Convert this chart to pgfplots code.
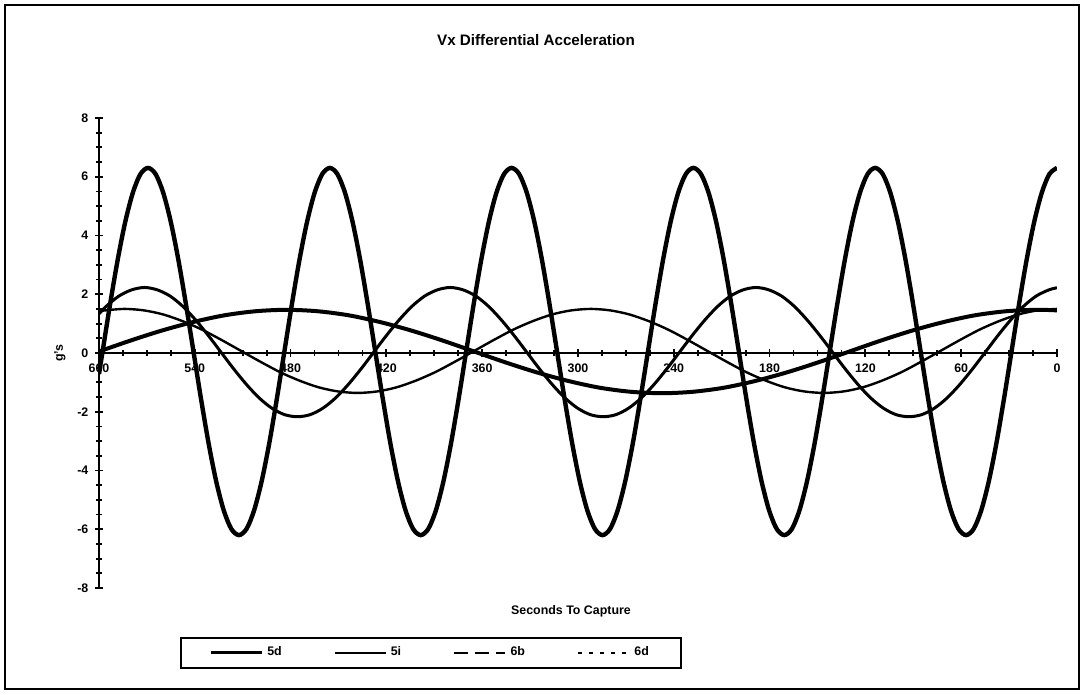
\documentclass[border=0pt]{standalone}
\usepackage{pgfplots}
\pgfplotsset{compat=1.18}
\usepackage{fontspec}
\setmainfont{Liberation Sans}
\begin{document}
\begin{tikzpicture}
% page area and outer frame
\path[use as bounding box] (0,0) rectangle (541.5pt,347.5pt);
\draw[line width=1pt] (2.5pt,3pt) rectangle (539.5pt,345pt);
\node[font=\fontsize{7.6}{9}\selectfont\bfseries] at (268pt,327.5pt) {Vx Differential Acceleration};
\node[font=\fontsize{6.2}{7}\selectfont\bfseries] at (285.5pt,42pt) {Seconds To Capture};
\node[font=\fontsize{6.2}{7}\selectfont\bfseries, rotate=90] at (30pt,171pt) {g's};
\begin{axis}[
  at={(49.5pt,53.5pt)}, anchor=south west,
  scale only axis, width=479pt, height=235pt,
  xmin=0, xmax=600, ymin=-8, ymax=8, x dir=reverse,
  axis x line*=middle, axis y line*=left,
  axis line style={line width=1.1pt, black},
  xtick={0,60,...,600}, ytick={-8,-6,...,8},
  minor x tick num=3, minor y tick num=3,
  tick align=center,
  major tick length=3.6pt, minor tick length=2.6pt,
  every tick/.style={line width=0.9pt, black},
  hide obscured x ticks=false, hide obscured y ticks=false,
  tick label style={font=\fontsize{6.2}{7}\selectfont\bfseries},
  /pgf/number format/assume math mode=true,
  legend columns=4,
  legend image code/.code={\draw[#1] (0pt,0pt) -- (25.5pt,0pt);},
  legend style={at={(axis description cs:0.3466,-0.138)}, anchor=center,
    draw=black, line width=0.8pt,
    font=\fontsize{6.2}{7}\selectfont\bfseries,
    inner xsep=14pt, inner ysep=2.5pt,
    /tikz/every even column/.append style={column sep=24pt}},
]
\addlegendimage{black, line width=1.6pt}
\addlegendentry{5d}
\addlegendimage{black, line width=1pt}
\addlegendentry{5i}
\addlegendimage{black, line width=1.2pt, dash pattern=on 7pt off 3.5pt}
\addlegendentry{6b}
\addlegendimage{black, line width=1.2pt, dash pattern=on 2pt off 3.5pt}
\addlegendentry{6d}

% 5d
\addplot[forget plot, black, line width=2.2pt, smooth] coordinates {
(600,-0.72) (597.75,0.05) (593.01,1.67) (588.26,3.18) (583.52,4.47) (578.77,5.46) (574.03,6.09)
(569.29,6.30) (564.54,6.09) (559.80,5.46) (555.05,4.47) (550.31,3.18) (545.57,1.67)
(540.82,0.05) (536.08,-1.57) (531.33,-3.08) (526.59,-4.37) (521.85,-5.36) (517.10,-5.99)
(512.36,-6.20) (507.61,-5.99) (502.87,-5.36) (498.13,-4.37) (493.38,-3.08) (488.64,-1.57)
(483.89,0.05) (479.15,1.67) (474.41,3.18) (469.66,4.47) (464.92,5.46) (460.17,6.09)
(455.43,6.30) (450.69,6.09) (445.94,5.46) (441.20,4.47) (436.45,3.18) (431.71,1.67)
(426.97,0.05) (422.22,-1.57) (417.48,-3.08) (412.73,-4.37) (407.99,-5.36) (403.25,-5.99)
(398.50,-6.20) (393.76,-5.99) (389.01,-5.36) (384.27,-4.37) (379.53,-3.08) (374.78,-1.57)
(370.04,0.05) (365.30,1.67) (360.55,3.18) (355.81,4.47) (351.06,5.46) (346.32,6.09)
(341.58,6.30) (336.83,6.09) (332.09,5.46) (327.34,4.47) (322.60,3.18) (317.86,1.67)
(313.11,0.05) (308.37,-1.57) (303.62,-3.08) (298.88,-4.37) (294.14,-5.36) (289.39,-5.99)
(284.65,-6.20) (279.90,-5.99) (275.16,-5.36) (270.42,-4.37) (265.67,-3.08) (260.93,-1.57)
(256.18,0.05) (251.44,1.67) (246.69,3.18) (241.95,4.47) (237.20,5.46) (232.46,6.09)
(227.72,6.30) (222.97,6.09) (218.23,5.46) (213.48,4.47) (208.74,3.18) (204.00,1.67)
(199.25,0.05) (194.51,-1.57) (189.76,-3.08) (185.02,-4.37) (180.28,-5.36) (175.53,-5.99)
(170.79,-6.20) (166.04,-5.99) (161.30,-5.36) (156.56,-4.37) (151.81,-3.08) (147.07,-1.57)
(142.33,0.05) (137.59,1.67) (132.84,3.18) (128.10,4.47) (123.35,5.46) (118.61,6.09)
(113.87,6.30) (109.12,6.09) (104.38,5.46) (99.63,4.47) (94.89,3.18) (90.15,1.67)
(85.40,0.05) (80.66,-1.57) (75.91,-3.08) (71.17,-4.37) (66.43,-5.36) (61.68,-5.99)
(56.94,-6.20) (52.19,-5.99) (47.45,-5.36) (42.71,-4.37) (37.96,-3.08) (33.22,-1.57)
(28.47,0.05) (23.73,1.67) (18.98,3.18) (14.24,4.47) (9.49,5.46) (4.75,6.09) (0,6.30)
};

% 5i
\addplot[forget plot, black, line width=1.2pt, smooth] coordinates {
(0,1.50) (12.17,1.45) (24.33,1.31) (36.50,1.08) (48.67,0.79) (60.83,0.44)
(73.00,0.07) (85.17,-0.30) (97.33,-0.65) (109.50,-0.94) (121.67,-1.17) (133.83,-1.31)
(146.00,-1.36) (158.17,-1.31) (170.33,-1.17) (182.50,-0.94) (194.67,-0.65) (206.83,-0.30)
(219.00,0.07) (231.17,0.44) (243.33,0.79) (255.50,1.08) (267.67,1.31) (279.83,1.45)
(292.00,1.50) (304.17,1.45) (316.33,1.31) (328.50,1.08) (340.67,0.79) (352.83,0.44)
(365.00,0.07) (377.17,-0.30) (389.33,-0.65) (401.50,-0.94) (413.67,-1.17) (425.83,-1.31)
(438.00,-1.36) (450.17,-1.31) (462.33,-1.17) (474.50,-0.94) (486.67,-0.65) (498.83,-0.30)
(511.00,0.07) (523.17,0.44) (535.33,0.79) (547.50,1.08) (559.67,1.31) (571.83,1.45)
(584.00,1.50) (596.17,1.45) (600,1.42)
};

% 6b
\addplot[forget plot, black, line width=1.5pt, smooth] coordinates {
(0,2.22) (4.98,2.15) (12.96,1.94) (20.94,1.59) (28.92,1.13) (36.90,0.60)
(44.87,0.03) (52.85,-0.54) (60.83,-1.07) (68.81,-1.53) (76.79,-1.88) (84.77,-2.10)
(92.75,-2.17) (100.73,-2.10) (108.71,-1.88) (116.69,-1.53) (124.67,-1.07) (132.65,-0.54)
(140.62,0.03) (148.60,0.60) (156.58,1.13) (164.56,1.59) (172.54,1.94) (180.52,2.15)
(188.50,2.23) (196.48,2.15) (204.46,1.94) (212.44,1.59) (220.42,1.13) (228.40,0.60)
(236.37,0.03) (244.35,-0.54) (252.33,-1.07) (260.31,-1.53) (268.29,-1.88) (276.27,-2.10)
(284.25,-2.17) (292.23,-2.10) (300.21,-1.88) (308.19,-1.53) (316.17,-1.07) (324.15,-0.54)
(332.12,0.03) (340.10,0.60) (348.08,1.13) (356.06,1.59) (364.04,1.94) (372.02,2.15)
(380.00,2.23) (387.98,2.15) (395.96,1.94) (403.94,1.59) (411.92,1.13) (419.90,0.60)
(427.87,0.03) (435.85,-0.54) (443.83,-1.07) (451.81,-1.53) (459.79,-1.88) (467.77,-2.10)
(475.75,-2.17) (483.73,-2.10) (491.71,-1.88) (499.69,-1.53) (507.67,-1.07) (515.65,-0.54)
(523.62,0.03) (531.60,0.60) (539.58,1.13) (547.56,1.59) (555.54,1.94) (563.52,2.15)
(571.50,2.23) (579.48,2.15) (587.46,1.94) (595.44,1.59) (600,1.33)
};

% 6d
\addplot[forget plot, black, line width=2pt, smooth] coordinates {
(600,0.05) (580.42,0.42) (560.83,0.76) (541.25,1.05) (521.67,1.28) (502.08,1.42)
(482.50,1.47) (462.92,1.42) (443.33,1.28) (423.75,1.05) (404.17,0.76) (384.58,0.42)
(365.00,0.05) (345.42,-0.32) (325.83,-0.66) (306.25,-0.95) (286.67,-1.18) (267.08,-1.32)
(247.50,-1.37) (227.92,-1.32) (208.33,-1.18) (188.75,-0.95) (169.17,-0.66) (149.58,-0.32)
(130.00,0.05) (110.42,0.42) (90.83,0.76) (71.25,1.05) (51.67,1.28) (32.08,1.42)
(12.50,1.47) (0,1.45)
};
\end{axis}
\end{tikzpicture}
\end{document}
